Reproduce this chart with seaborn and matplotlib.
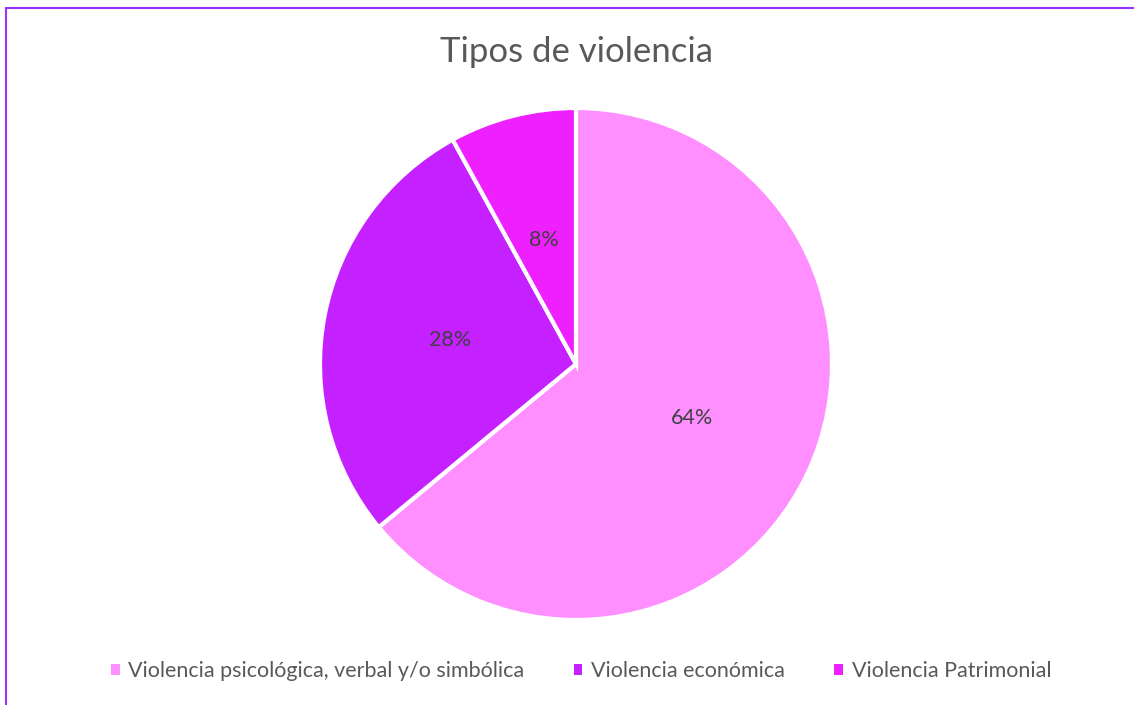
import matplotlib
matplotlib.use("Agg")
from matplotlib import pyplot as plt
from matplotlib.patches import Rectangle
import seaborn as sns

categorias = ['Violencia psicológica, verbal y/o simbólica',
              'Violencia económica',
              'Violencia Patrimonial']
porcentajes = [64, 28, 8]
colores = ['#FF8FFF', '#C520FF', '#EE20FF']
titulo = 'Tipos de violencia'


def make_plot():
    sns.set_theme(style='white')
    plt.rcParams['font.family'] = ['Lato', 'DejaVu Sans']
    fig = plt.figure(figsize=(11.34, 7.05), dpi=100)
    W, H = 1134, 705

    # marco morado del gráfico
    fig.patches.append(Rectangle((6 / W, -0.1), 1.2, 1 - 8 / H + 0.1,
                                 transform=fig.transFigure, fill=False,
                                 edgecolor='#9B30FF', linewidth=1.5))

    cx, cy, r = 576, 364, 256
    ax = fig.add_axes([(cx - r) / W, (H - cy - r) / H, 2 * r / W, 2 * r / H])
    wedges, texts, autotexts = ax.pie(
        porcentajes, colors=colores, startangle=90, counterclock=False,
        autopct='%1.0f%%', pctdistance=0.5,
        wedgeprops=dict(edgecolor='white', linewidth=3),
        textprops=dict(color='#404040', fontsize=15.5))
    ax.set_xlim(-1, 1)
    ax.set_ylim(-1, 1)
    ax.set_aspect('auto')
    ax.axis('off')

    fig.text(cx / W, 1 - 52 / H, titulo, ha='center', va='center',
             fontsize=25, color='#595959')

    leg = fig.legend(wedges, categorias, loc='center',
                     bbox_to_anchor=(581 / W, 1 - 671 / H),
                     ncol=3, frameon=False, fontsize=15.5,
                     handlelength=0.4, handleheight=0.4, handletextpad=0.4,
                     columnspacing=2.3)
    for t in leg.get_texts():
        t.set_color('#595959')
    for h in leg.legend_handles:
        h.set_linewidth(0)


def save_plot_as(filename):
    make_plot()
    plt.savefig(filename, dpi=100)
    plt.close()


if __name__ == '__main__':
    save_plot_as('out.png')
